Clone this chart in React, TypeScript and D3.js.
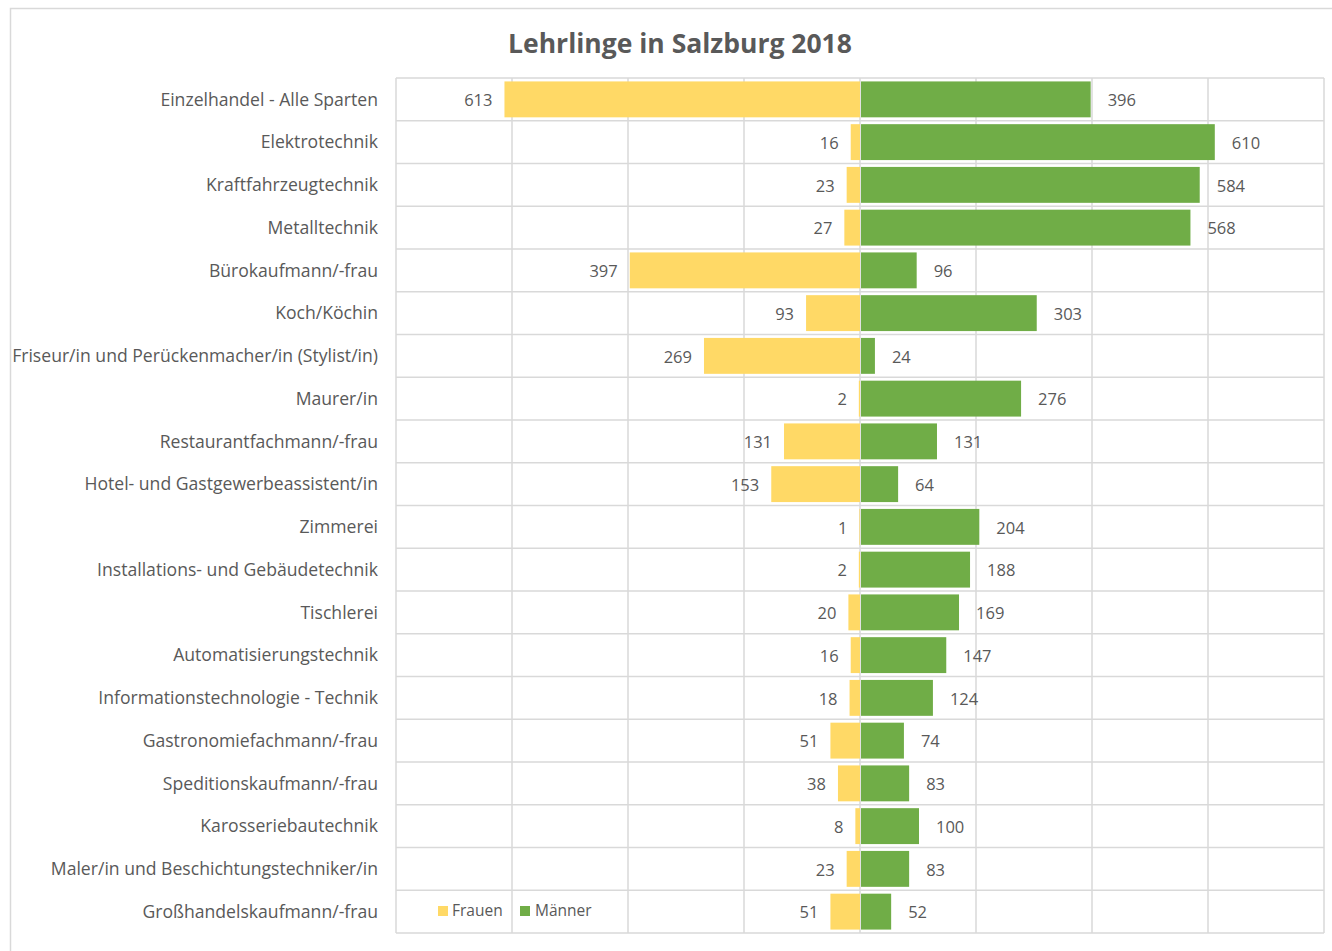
import React from 'react';
import * as d3 from 'd3';

const categories = [
  'Einzelhandel - Alle Sparten',
  'Elektrotechnik',
  'Kraftfahrzeugtechnik',
  'Metalltechnik',
  'Bürokaufmann/-frau',
  'Koch/Köchin',
  'Friseur/in und Perückenmacher/in (Stylist/in)',
  'Maurer/in',
  'Restaurantfachmann/-frau',
  'Hotel- und Gastgewerbeassistent/in',
  'Zimmerei',
  'Installations- und Gebäudetechnik',
  'Tischlerei',
  'Automatisierungstechnik',
  'Informationstechnologie - Technik',
  'Gastronomiefachmann/-frau',
  'Speditionskaufmann/-frau',
  'Karosseriebautechnik',
  'Maler/in und Beschichtungstechniker/in',
  'Großhandelskaufmann/-frau',
];

const frauen = [613, 16, 23, 27, 397, 93, 269, 2, 131, 153, 1, 2, 20, 16, 18, 51, 38, 8, 23, 51];
const maenner = [396, 610, 584, 568, 96, 303, 24, 276, 131, 64, 204, 188, 169, 147, 124, 74, 83, 100, 83, 52];

const gridTicks = [-800, -600, -400, -200, 0, 200, 400, 600, 800];

const WIDTH = 1332;
const HEIGHT = 951;
const plot = { left: 396, right: 1324, top: 78, bottom: 933 };

const FONT = '"Open Sans", Lato, sans-serif';
const TEXT = '#595959';
const GRID = '#d9d9d9';
const YELLOW = '#FFD966';
const GREEN = '#70AD47';

export default function App() {
  const x = d3.scaleLinear().domain([-800, 800]).range([plot.left, plot.right]);
  const y = d3
    .scaleBand<string>()
    .domain(categories)
    .range([plot.top, plot.bottom])
    .paddingInner(0.16)
    .paddingOuter(0.08);
  const rowH = (plot.bottom - plot.top) / categories.length;
  const rowLines = d3.range(categories.length + 1).map((i) => plot.top + i * rowH);

  return (
    <div style={{ position: 'absolute', left: 0, top: 0 }}>
      <svg width={WIDTH} height={HEIGHT} style={{ display: 'block', fontFamily: FONT }}>
        <rect x={0} y={0} width={WIDTH} height={HEIGHT} fill="#fff" />
        {/* outer chart frame */}
        <rect x={10.5} y={8.5} width={WIDTH + 20} height={HEIGHT + 20} fill="none" stroke={GRID} strokeWidth={1.5} />

        <text x={680} y={53} textAnchor="middle" fill={TEXT} fontSize={26.5} fontWeight="bold">
          Lehrlinge in Salzburg 2018
        </text>

        {/* grid */}
        {gridTicks.map((t) => (
          <line key={t} x1={x(t)} x2={x(t)} y1={plot.top} y2={plot.bottom} stroke={GRID} strokeWidth={1.5} />
        ))}
        {rowLines.map((ry, i) => (
          <line key={i} x1={plot.left} x2={plot.right} y1={ry} y2={ry} stroke={GRID} strokeWidth={1.5} />
        ))}

        {/* bars */}
        {categories.map((c, i) => {
          const by = y(c)!;
          const bh = y.bandwidth();
          const cy = plot.top + (i + 0.5) * rowH;
          return (
            <g key={c}>
              <rect x={x(-frauen[i])} y={by} width={x(0) - x(-frauen[i])} height={bh} fill={YELLOW} />
              <rect x={x(0) + 1} y={by} width={x(maenner[i]) - x(0)} height={bh} fill={GREEN} />
              <text x={x(-frauen[i]) - 12} y={cy + 1} dy="0.35em" textAnchor="end" fill={TEXT} fontSize={16.5}>
                {frauen[i]}
              </text>
              <text x={x(maenner[i]) + 18} y={cy + 1} dy="0.35em" textAnchor="start" fill={TEXT} fontSize={16.5}>
                {maenner[i]}
              </text>
              <text x={378} y={cy} dy="0.35em" textAnchor="end" fill={TEXT} fontSize={17.6}>
                {c}
              </text>
            </g>
          );
        })}

        {/* legend */}
        <g>
          <rect x={438} y={906} width={10} height={10} fill={YELLOW} />
          <text x={452} y={911} dy="0.35em" fill={TEXT} fontSize={15.5}>Frauen</text>
          <rect x={520} y={906} width={10} height={10} fill={GREEN} />
          <text x={535} y={911} dy="0.35em" fill={TEXT} fontSize={15.5}>Männer</text>
        </g>
      </svg>
    </div>
  );
}
